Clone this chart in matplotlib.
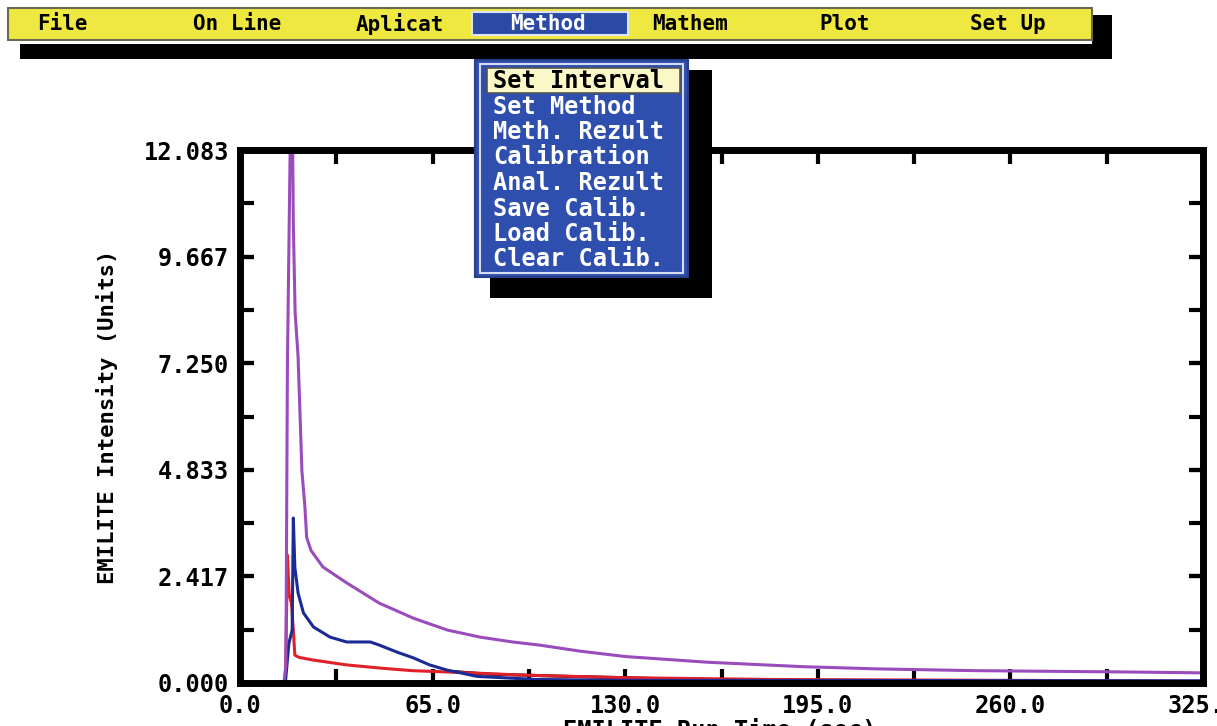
import numpy as np
import matplotlib
matplotlib.use("Agg")
import matplotlib.pyplot as plt
from matplotlib.patches import Rectangle

# --- data (time in sec, intensity in units) ---
t_purple = [0, 14.8, 15.5, 16.0, 16.6, 17.2, 17.6, 18.0, 18.6, 19.6, 20.9, 21.9, 22.5, 24, 28,
            36, 47, 58.5, 70, 81, 92, 101, 115, 130, 158, 190, 215, 248, 299, 325]
v_purple = [0, 0, 0.4, 7.2, 10.4, 13.5, 13.5, 10.4, 8.4, 7.4, 4.8, 4.0, 3.3, 3.0, 2.63,
            2.27, 1.81, 1.47, 1.2, 1.04, 0.93, 0.86, 0.72, 0.6, 0.47, 0.37, 0.32, 0.28, 0.25, 0.23]

t_blue = [0, 15.3, 16.5, 17.6, 18.0, 18.5, 19.6, 21.4, 24.8, 30.4, 36, 44, 47, 53, 58.5,
          64, 70, 73, 80, 100, 130, 325]
v_blue = [0, 0, 0.9, 1.2, 3.74, 2.63, 2.04, 1.59, 1.27, 1.04, 0.93, 0.93, 0.86, 0.70, 0.57,
          0.41, 0.29, 0.25, 0.15, 0.08, 0.06, 0.05]

t_red = [0, 15.0, 15.4, 16.0, 16.6, 17.4, 18.0, 18.5, 20, 24.7, 36, 47, 58, 70, 81, 95,
         130, 180, 260, 300, 325]
v_red = [0, 0, 0.3, 2.9, 2.0, 1.8, 1.2, 0.63, 0.58, 0.52, 0.41, 0.34, 0.28, 0.25, 0.22, 0.18,
         0.12, 0.08, 0.06, 0.05, 0.04]

t_black = [70, 84, 95, 110, 130, 140]
v_black = [0.27, 0.2, 0.18, 0.15, 0.12, 0.1]

x_ticks = [0.0, 65.0, 130.0, 195.0, 260.0, 325.0]
y_top = 12.083
y_ticks = [0.000, 2.417, 4.833, 7.250, 9.667, 12.083]

menu_items = ["File", "On Line", "Aplicat", "Method", "Mathem", "Plot", "Set Up"]
menu_x = [62, 237, 400, 548, 690, 845, 1008]
drop_items = ["Set Interval", "Set Method", "Meth. Rezult", "Calibration",
              "Anal. Rezult", "Save Calib.", "Load Calib.", "Clear Calib."]

MONO = "DejaVu Sans Mono"
W, H = 1217, 726
fig = plt.figure(figsize=(W / 100, H / 100), dpi=100)
fig.patch.set_facecolor("white")

ax = fig.add_axes([240 / W, 43 / H, 963 / W, 533 / H])
ax.plot(t_black, v_black, color="black", lw=2.2)
ax.plot(t_red, v_red, color="#e0202a", lw=2.2)
ax.plot(t_blue, v_blue, color="#1c2a96", lw=2.2)
ax.plot(t_purple, v_purple, color="#9a4cbc", lw=2.2)
ax.set_xlim(0, 325)
ax.set_ylim(0, y_top)
ax.set_xticks(x_ticks)
ax.set_xticks(np.arange(0, 326, 32.5), minor=True)
ax.set_yticks(y_ticks)
ax.set_yticks(np.linspace(0, y_top, 11), minor=True)
ax.set_xticklabels([f"{v:.1f}" for v in x_ticks])
ax.set_yticklabels([f"{v:.3f}" for v in y_ticks])
for s in ax.spines.values():
    s.set_linewidth(5)
ax.tick_params(which="both", direction="in", top=True, right=True, width=3, length=10,
               labelsize=17, pad=8)
for lab in ax.get_xticklabels() + ax.get_yticklabels():
    lab.set_fontfamily(MONO)
    lab.set_fontweight("bold")
ax.set_ylabel("EMILITE Intensity (Units)", fontfamily=MONO, fontweight="bold",
              fontsize=16, labelpad=18)
fig.text(720 / W, 1 - 719 / H, "EMILITE Run Time (sec)", ha="center", va="top",
         fontfamily=MONO, fontweight="bold", fontsize=17)

# --- overlay: menu bar and drop-down, in screen pixels ---
ov = fig.add_axes([0, 0, 1, 1], zorder=5)
ov.set_xlim(0, W)
ov.set_ylim(H, 0)
ov.axis("off")
ov.patch.set_alpha(0)

ov.add_patch(Rectangle((20, 44), 1092, 15, fc="black", ec="none"))
ov.add_patch(Rectangle((1092, 15), 20, 44, fc="black", ec="none"))
ov.add_patch(Rectangle((8, 8), 1084, 32, fc="#efe840", ec="#6a6a50", lw=1.5))
ov.add_patch(Rectangle((472, 12), 156, 23, fc="#2b4aa6", ec="#dfe3f0", lw=1.5))
for name, x in zip(menu_items, menu_x):
    ov.text(x, 24, name, ha="center", va="center", fontfamily=MONO, fontweight="bold",
            fontsize=15, color="white" if name == "Method" else "black")

ov.add_patch(Rectangle((490, 70), 222, 228, fc="black", ec="none"))
ov.add_patch(Rectangle((475, 60), 213, 217, fc="#2f4fae", ec="#2a3f8a", lw=1.5))
ov.add_patch(Rectangle((480, 64), 203, 209, fc="none", ec="#d8dcf0", lw=1.5))
ov.add_patch(Rectangle((487, 68), 193, 25, fc="#fbf8c8", ec="#555555", lw=1.2))
for i, item in enumerate(drop_items):
    ov.text(493, 81 + i * 25.5, item, ha="left", va="center", fontfamily=MONO,
            fontweight="bold", fontsize=17, color="black" if i == 0 else "white")

fig.savefig("out.png", dpi=100)
